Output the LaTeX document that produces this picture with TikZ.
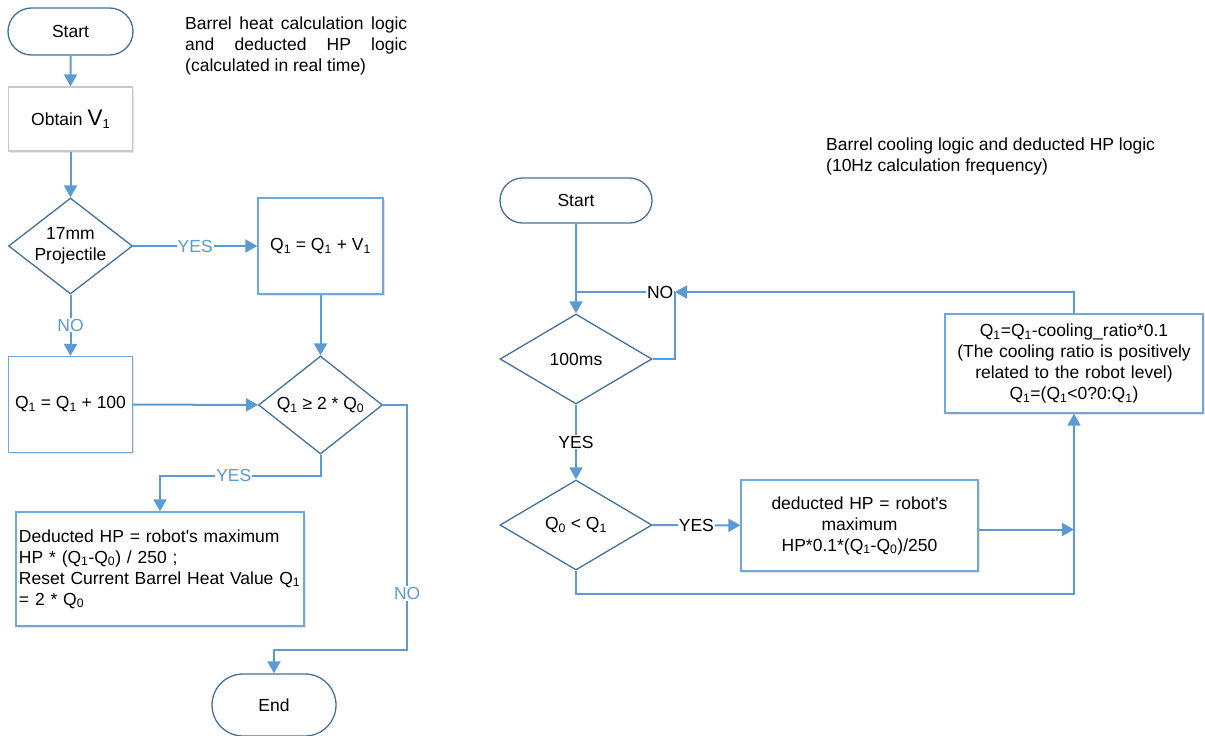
\documentclass[tikz,border=0pt]{standalone}
\usepackage{fontspec}
\setmainfont{Liberation Sans}
\usepackage{xcolor}
\usepackage{tikz}
\usetikzlibrary{shapes,arrows.meta,positioning,calc,shadows}

\definecolor{lineblue}{HTML}{5B9BD5}
\definecolor{edgeblue}{HTML}{41719C}
\definecolor{boxblue}{HTML}{70A8DC}
\definecolor{boxgray}{HTML}{C8C8C8}

\newcommand{\Qa}{Q\textsubscript{1}}
\newcommand{\Qz}{Q\textsubscript{0}}

\begin{document}
\begin{tikzpicture}[x=1pt, y=-1pt,
    font=\fontsize{17.5}{21}\selectfont,
    term/.style={rounded rectangle, draw=edgeblue, line width=1.3pt, fill=white, inner sep=0pt},
    proc/.style={rectangle, draw=boxblue, line width=1.3pt, fill=white, inner sep=4pt,
                 drop shadow={shadow xshift=1.5pt, shadow yshift=-1.5pt, opacity=0.2}},
    cond/.style={diamond, draw=edgeblue, line width=1.3pt, fill=white, inner sep=0pt,
                 shape aspect=1.3, align=center},
    flow/.style={draw=lineblue, line width=2pt, -{Triangle[width=13pt,length=12pt]}},
    wire/.style={draw=lineblue, line width=2pt},
    yn/.style={fill=white, inner sep=1pt, text=lineblue},
    yn2/.style={fill=white, inner sep=1pt},
  ]
    \useasboundingbox (0,0) rectangle (1205,736);

    % Heat calculation (left)
    \node[anchor=north west, inner sep=0pt, align=left] (title1) at (185,16.5)
        {\makebox[222pt][s]{Barrel heat calculation logic}\\\makebox[222pt][s]{and deducted HP logic}\\(calculated in real time)};
    \node[term, minimum width=125pt, minimum height=47pt] (start1) at (70.5,31.5) {Start};
    \node[proc, draw=boxgray, minimum width=124pt, minimum height=64pt] (obtain) at (70.5,119)
        {Obtain {\fontsize{22.5}{22.5}\selectfont V}\raisebox{-3pt}{\fontsize{13}{13}\selectfont 1}};
    \node[cond, minimum width=124pt, minimum height=96pt] (d17) at (70.5,246) {17mm\\Projectile};
    \node[proc, minimum width=125pt, minimum height=96pt] (heat1) at (320.5,246) {\Qa{} = \Qa{} + V\textsubscript{1}};
    \node[proc, minimum width=124pt, minimum height=96pt] (heat2) at (70.5,404.5) {\Qa{} = \Qa{} + 100};
    \node[cond, minimum width=124pt, minimum height=98pt] (over) at (320.5,405) {\Qa{} ≥ 2 * \Qz};
    \node[proc, align=left, text width=282pt, inner xsep=3pt, minimum height=114pt] (hp1) at (160,569)
        {Deducted HP = robot\textquotesingle s maximum\\HP * (\Qa-\Qz) / 250 ;\\Reset Current Barrel Heat Value~\Qa\\= 2 * \Qz};
    \node[term, minimum width=124pt, minimum height=62pt] (end) at (274,705) {End};

    \draw[flow] (start1) -- (obtain);
    \draw[flow] (obtain) -- (d17);
    \draw[flow] (d17) -- node[yn]{YES} (heat1);
    \draw[flow] (d17) -- node[yn]{NO} (heat2);
    \draw[flow] (heat1) -- (over);
    \draw[flow] (heat2) -- (over);
    \draw[flow] (over.south) -- ++(0,21) -| node[yn, pos=0.27]{YES} (hp1.north);
    \draw[flow] (over.east) -- ++(24,0) -- node[yn, pos=0.77]{NO} ++(0,245) -| (end.north);

    % Cooling (right)
    \node[anchor=north west, inner sep=0pt, align=left] (title2) at (826,137.5)
        {Barrel cooling logic and deducted HP logic\\(10Hz calculation frequency)};
    \node[term, minimum width=152pt, minimum height=45pt] (start2) at (576,200.5) {Start};
    \node[cond, minimum width=152pt, minimum height=90pt] (tick) at (576,359) {100ms};
    \node[cond, minimum width=152pt, minimum height=90pt] (cmp) at (576,525) {\Qz{} < \Qa};
    \node[proc, align=center, text width=229pt, minimum height=91pt] (hp2) at (859.5,525.5)
        {deducted HP = robot\textquotesingle s\\maximum\\HP*0.1*(\Qa-\Qz)/250};
    \node[proc, align=center, text width=250pt, minimum height=99pt] (cool) at (1074,363.5)
        {\Qa=\Qa-cooling\_ratio*0.1\\(The cooling ratio is positively\\related to the robot level)\\\Qa=(\Qa<0?0:\Qa)};
    \coordinate (merge) at (675,292);

    \draw[flow] (start2) -- (tick);
    \draw[wire] (tick.east) -| (merge);
    \draw[flow] (cool.north) |- (merge);
    \draw[wire] (merge) -- node[yn2, pos=0.15]{NO} (merge -| start2.south);
    \draw[flow] (tick) -- node[yn2]{YES} (cmp);
    \draw[flow] (cmp) -- node[yn2]{YES} (hp2);
    \draw[flow] ([yshift=-4pt]hp2.east) -- ([yshift=-4pt]hp2.east -| cool.south);
    \draw[flow] (cmp.south) -- ++(0,23) -| (cool.south);
\end{tikzpicture}
\end{document}
